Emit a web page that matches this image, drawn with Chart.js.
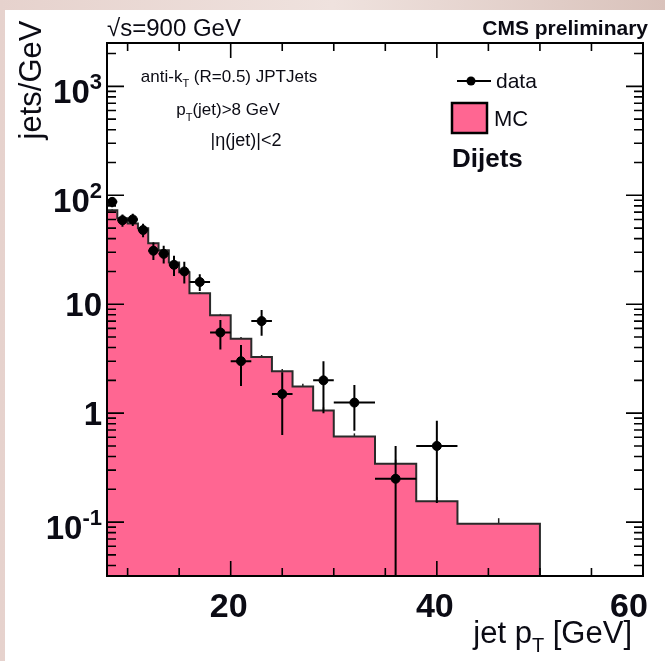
<!DOCTYPE html>
<html lang="en">
<head>
<meta charset="utf-8" />
<title>Jet pT spectrum, dijets</title>
<script src="https://cdn.jsdelivr.net/npm/chart.js@4.4.1/dist/chart.umd.min.js"></script>
<style>
  html, body { margin: 0; padding: 0; background: #eadbd6; }
  #wrap { width: 665px; height: 661px; }
</style>
</head>
<body>
<div id="wrap"><canvas id="ptChart" width="665" height="661"></canvas></div>
<script>
// histogram binning (GeV) and contents (jets/GeV)
const binEdges = [8, 9, 10, 11, 12, 13, 14, 15, 16, 18, 20, 22, 24, 26, 28, 30, 34, 38, 42, 50];
const mcValues = [73, 61.5, 55, 49.8, 36.3, 31.3, 24.2, 19.7, 12.6, 7.9, 4.83, 3.27, 2.42, 1.76, 1.06, 0.612, 0.344, 0.155, 0.0966];
const mcErrors = [1.5, 1.3, 1.2, 1.1, 0.9, 0.8, 0.7, 0.6, 0.35, 0.25, 0.18, 0.15, 0.12, 0.1, 0.07, 0.04, 0.03, 0.015, 0.012];
const dataValues = [87, 59, 60, 48, 31, 29, 23, 20, 16, 5.5, 3.0, 7.0, 1.5, null, 2.0, 1.25, 0.25, 0.5, null];
const dataErrors = [9.3, 7.7, 7.7, 6.9, 5.6, 5.4, 4.8, 4.5, 2.8, 1.66, 1.22, 1.87, 0.87, null, 1.0, 0.56, 0.25, 0.35, null];

// axis ranges and labels
const xMin = 8, xMax = 60;
const yMin = 0.032, yMax = 2500;
const xTickValues = [20, 40, 60];
const xTickLabels = ['20', '40', '60'];
const yTickValues = [1000, 100, 10, 1, 0.1];
const yTickLabels = [['10', '3'], ['10', '2'], ['10', ''], ['1', ''], ['10', '-1']];

const FONT = '"Liberation Sans", Arial, Helvetica, sans-serif';
const PINK = '#ff6692';
const INK = '#0b0b14';

const mcPoints = binEdges.slice(0, -1).map((e, i) => ({ x: e, y: mcValues[i] }));
mcPoints.push({ x: binEdges[binEdges.length - 1], y: yMin });

const dataPoints = [];
dataValues.forEach((v, i) => {
  if (v === null) return;
  dataPoints.push({ x: (binEdges[i] + binEdges[i + 1]) / 2, y: v, lo: binEdges[i], hi: binEdges[i + 1], err: dataErrors[i] });
});

function font(size, bold) {
  return (bold ? 'bold ' : '') + size + 'px ' + FONT;
}

// draws a run of [text, size, bold, dy] pieces, anchored left/center/right
function drawRuns(ctx, runs, x, y, align) {
  let total = 0;
  runs.forEach(r => { ctx.font = font(r[1], r[2]); total += ctx.measureText(r[0]).width; });
  let cx = align === 'center' ? x - total / 2 : (align === 'right' ? x - total : x);
  ctx.textAlign = 'left';
  ctx.textBaseline = 'alphabetic';
  runs.forEach(r => {
    ctx.font = font(r[1], r[2]);
    ctx.fillText(r[0], cx, y + (r[3] || 0));
    cx += ctx.measureText(r[0]).width;
  });
}

const decor = {
  id: 'decor',
  beforeDraw(chart) {
    const ctx = chart.ctx;
    ctx.save();
    const g = ctx.createLinearGradient(0, 0, 665, 0);
    g.addColorStop(0, '#e6d2cd');
    g.addColorStop(0.5, '#efe2de');
    g.addColorStop(1, '#d9c2bb');
    ctx.fillStyle = g;
    ctx.fillRect(0, 0, chart.width, chart.height);
    ctx.fillStyle = '#ffffff';
    ctx.fillRect(5, 10, chart.width - 5, chart.height - 10);
    ctx.restore();
  },
  beforeDatasetsDraw(chart) {
    // MC statistical errors, lower half hidden by the fill
    const ctx = chart.ctx, xs = chart.scales.x, ys = chart.scales.y;
    ctx.save();
    ctx.strokeStyle = '#222';
    ctx.lineWidth = 1.5;
    mcValues.forEach((v, i) => {
      const cx = xs.getPixelForValue((binEdges[i] + binEdges[i + 1]) / 2);
      ctx.beginPath();
      ctx.moveTo(cx, ys.getPixelForValue(v));
      ctx.lineTo(cx, ys.getPixelForValue(v + mcErrors[i]));
      ctx.stroke();
    });
    ctx.restore();
  },
  afterDatasetsDraw(chart) {
    const ctx = chart.ctx, xs = chart.scales.x, ys = chart.scales.y, a = chart.chartArea;
    ctx.save();
    ctx.beginPath();
    ctx.rect(a.left, a.top, a.right - a.left, a.bottom - a.top);
    ctx.clip();
    ctx.strokeStyle = '#000';
    ctx.lineWidth = 2;
    dataPoints.forEach(p => {
      const py = ys.getPixelForValue(p.y);
      const px = xs.getPixelForValue(p.x);
      const low = p.y - p.err;
      const yLow = low > 0 ? ys.getPixelForValue(low) : a.bottom;
      ctx.beginPath();
      ctx.moveTo(xs.getPixelForValue(p.lo), py);
      ctx.lineTo(xs.getPixelForValue(p.hi), py);
      ctx.moveTo(px, ys.getPixelForValue(p.y + p.err));
      ctx.lineTo(px, yLow);
      ctx.stroke();
    });
    ctx.restore();
  },
  afterDraw(chart) {
    const ctx = chart.ctx, xs = chart.scales.x, ys = chart.scales.y, a = chart.chartArea;
    ctx.save();
    ctx.strokeStyle = '#000';
    ctx.fillStyle = '#000';

    // frame
    ctx.lineWidth = 2;
    ctx.strokeRect(a.left, a.top, a.right - a.left, a.bottom - a.top);

    // x ticks, top and bottom
    ctx.lineWidth = 1.6;
    for (let v = 10; v <= 55; v += 5) {
      const px = xs.getPixelForValue(v);
      const len = (v % 20 === 0) ? 15 : 8;
      ctx.beginPath();
      ctx.moveTo(px, a.bottom); ctx.lineTo(px, a.bottom - len);
      ctx.moveTo(px, a.top); ctx.lineTo(px, a.top + len);
      ctx.stroke();
    }
    // y ticks, left and right
    for (let d = -2; d <= 3; d++) {
      for (let m = 1; m <= 9; m++) {
        const v = m * Math.pow(10, d);
        if (v < yMin || v > yMax) continue;
        const py = ys.getPixelForValue(v);
        const len = m === 1 ? 17 : 9;
        ctx.beginPath();
        ctx.moveTo(a.left, py); ctx.lineTo(a.left + len, py);
        ctx.moveTo(a.right, py); ctx.lineTo(a.right - len, py);
        ctx.stroke();
      }
    }

    // tick labels
    ctx.fillStyle = INK;
    xTickValues.forEach((v, i) => {
      const px = Math.min(xs.getPixelForValue(v), 631);
      drawRuns(ctx, [[xTickLabels[i], 34, true]], px - 2, 617, 'center');
    });
    yTickValues.forEach((v, i) => {
      const py = ys.getPixelForValue(v);
      const lab = yTickLabels[i];
      const runs = [[lab[0], 33, true]];
      let base = py + 12;
      if (lab[1]) {
        runs.push([lab[1], 22, true, -14]);
        base += 5;
      }
      drawRuns(ctx, runs, 102, base, 'right');
    });

    // axis titles
    drawRuns(ctx, [['jet p', 31, false], ['T', 20, false, 9], [' [GeV]', 31, false]], 632, 643, 'right');
    ctx.save();
    ctx.translate(41, 80);
    ctx.rotate(-Math.PI / 2);
    drawRuns(ctx, [['jets/GeV', 31, false]], 0, 0, 'center');
    ctx.restore();

    // header
    drawRuns(ctx, [['\u221As=900 GeV', 24, false]], 107, 36, 'left');
    drawRuns(ctx, [['CMS preliminary', 21, true]], 648, 35, 'right');

    // selection text
    drawRuns(ctx, [['anti-k', 17, false], ['T', 11, false, 5], [' (R=0.5) JPTJets', 17, false]], 229, 82, 'center');
    drawRuns(ctx, [['p', 17, false], ['T', 11, false, 6], ['(jet)>8 GeV', 17, false]], 228, 115, 'center');
    drawRuns(ctx, [['|\u03B7(jet)|<2', 18, false]], 246, 146, 'center');

    // legend
    ctx.strokeStyle = '#000';
    ctx.lineWidth = 2;
    ctx.beginPath();
    ctx.moveTo(457, 81); ctx.lineTo(491, 81);
    ctx.stroke();
    ctx.beginPath();
    ctx.arc(471, 81, 4.5, 0, Math.PI * 2);
    ctx.fillStyle = '#000';
    ctx.fill();
    ctx.fillStyle = PINK;
    ctx.fillRect(452, 103, 35, 30);
    ctx.lineWidth = 2.5;
    ctx.strokeRect(452, 103, 35, 30);
    ctx.fillStyle = INK;
    drawRuns(ctx, [['data', 21, false]], 496, 88, 'left');
    drawRuns(ctx, [['MC', 22, false]], 494, 126, 'left');
    drawRuns(ctx, [['Dijets', 26, true]], 452, 167, 'left');
    ctx.restore();
  }
};

const ctx = document.getElementById('ptChart').getContext('2d');
const chart = new Chart(ctx, {
  type: 'line',
  data: {
    datasets: [{
      label: 'data',
      data: dataPoints,
      showLine: false,
      pointRadius: 4.5,
      pointBackgroundColor: '#000',
      pointBorderColor: '#000',
      order: 0
    }, {
      label: 'MC',
      data: mcPoints,
      stepped: 'before',
      fill: 'start',
      backgroundColor: PINK,
      borderColor: '#2a2a2a',
      borderWidth: 2,
      pointRadius: 0,
      order: 1
    }]
  },
  options: {
    responsive: false,
    animation: false,
    layout: { padding: { left: 107, top: 43, right: 22, bottom: 85 } },
    plugins: { legend: { display: false }, tooltip: { enabled: false } },
    scales: {
      x: { type: 'linear', min: xMin, max: xMax, display: false },
      y: { type: 'logarithmic', min: yMin, max: yMax, display: false }
    }
  },
  plugins: [decor]
});
</script>
</body>
</html>
